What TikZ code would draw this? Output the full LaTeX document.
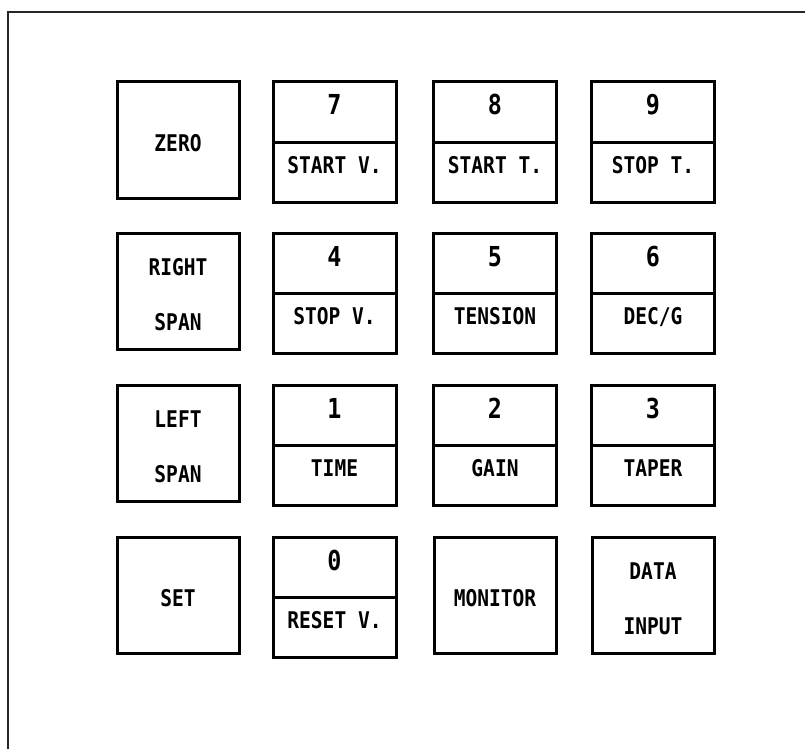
\documentclass[tikz,border=0pt]{standalone}
\usepackage{fontspec}
\newfontfamily\keyfont[FakeStretch=0.85]{DejaVu Sans Mono}
\begin{document}
\begin{tikzpicture}[x=1pt,y=-1pt,
  keybox/.style={draw=black, line width=3pt, fill=none, inner sep=0pt, minimum width=122pt},
  keytext/.style={inner sep=0pt, font=\keyfont\bfseries\fontsize{23}{23}\selectfont, text height=16.8pt, text depth=0pt},
  digittext/.style={inner sep=0pt, font=\keyfont\bfseries\fontsize{27.5}{27.5}\selectfont, text height=20pt, text depth=0pt},
  framel/.style={draw=black!85, line width=1.3pt}]
\useasboundingbox (0,0) rectangle (805,749);
% outer frame (open at right and bottom)
\coordinate (fbl) at (8,749);
\coordinate (ftl) at (8,12);
\coordinate (ftr) at (805,12);
\draw[framel] (fbl) -- (ftl) -- (ftr);
% single keys
\newcommand\skey[4]{% name, cx, top, text
  \node[keybox, minimum height=116pt] (#1) at (#2,#3+58) {};
  \node[keytext] (#1t) at ([yshift=-3.5pt]#1.center) {#4};}
\newcommand\sskey[5]{% name, cx, top, line1, line2
  \node[keybox, minimum height=116pt] (#1) at (#2,#3+58) {};
  \node[keytext] (#1t) at ([yshift=24pt]#1.center) {#4};
  \node[keytext] (#1u) at ([yshift=-31.5pt]#1.center) {#5};}
\newcommand\dkey[5]{% name, cx, top, digit, label
  \node[keybox, minimum height=60pt, minimum width=123pt] (#1a) at (#2,#3+30) {};
  \node[keybox, minimum height=60pt, minimum width=123pt] (#1b) at (#2,#3+90) {};
  \node[digittext] (#1d) at ([yshift=7pt]#1a.center) {#4};
  \node[keytext] (#1l) at ([yshift=6.5pt]#1b.center) {#5};}
% row 1
\skey{zero}{178}{82}{ZERO}
\dkey{kseven}{334.5}{82}{7}{START V.}
\dkey{keight}{495}{82}{8}{START T.}
\dkey{knine}{653}{82}{9}{STOP T.}
% row 2
\sskey{rspan}{178}{233}{RIGHT}{SPAN}
\dkey{kfour}{334.5}{233}{4}{STOP V.}
\dkey{kfive}{495}{233}{5}{TENSION}
\dkey{ksix}{653}{233}{6}{DEC/G}
% row 3
\sskey{lspan}{178}{385}{LEFT}{SPAN}
\dkey{kone}{334.5}{385}{1}{TIME}
\dkey{ktwo}{495}{385}{2}{GAIN}
\dkey{kthree}{653}{385}{3}{TAPER}
% row 4
\skey{set}{178}{537}{SET}
\dkey{kzero}{334.5}{537}{0}{RESET V.}
\skey{monitor}{495}{537}{MONITOR}
\sskey{datain}{653}{537}{DATA}{INPUT}
\end{tikzpicture}
\end{document}
